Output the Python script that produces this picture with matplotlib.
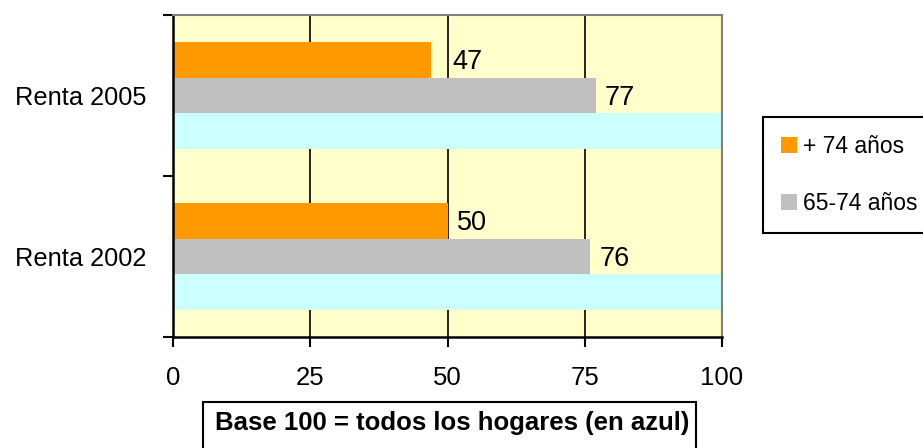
import matplotlib
matplotlib.use("Agg")
import matplotlib.pyplot as plt
from matplotlib.patches import Rectangle
from matplotlib.ticker import FixedLocator

plt.rcParams['font.family'] = ['Liberation Sans', 'DejaVu Sans']

categories = ["Renta 2002", "Renta 2005"]
mayores_74 = [50, 47]
de_65_74 = [76, 77]
todos = [100, 100]
series_names = ["+ 74 años", "65-74 años"]
x_ticks = [0, 25, 50, 75, 100]
note = "Base 100 = todos los hogares (en azul)"

# horizontal label gaps in pixels after the bar end
gap_74 = [9, 21]
gap_65 = [9, 9]

W, H = 923, 448
fig = plt.figure(figsize=(W / 100, H / 100), dpi=100)
ax = fig.add_axes([173 / W, 1 - 337 / H, (722 - 173) / W, (337 - 15) / H])
ax.set_facecolor("#FFFFCC")

h = 0.222
pos = list(range(len(categories)))
b1 = ax.barh([p + h for p in pos], mayores_74, height=h, color="#FF9900", label=series_names[0], zorder=2)
b2 = ax.barh(pos, de_65_74, height=h, color="#C0C0C0", label=series_names[1], zorder=2)
b3 = ax.barh([p - h for p in pos], todos, height=h, color="#CCFFFF", zorder=2)

px = 0.72
lab_fs = 19.5
dy = -9.5
for p, v, dx in zip(pos, mayores_74, gap_74):
    ax.annotate(str(v), (v, p + h), xytext=(dx * px, dy * px), textcoords="offset points",
                ha="left", va="baseline", fontsize=lab_fs, color="black", zorder=3)
for p, v, dx in zip(pos, de_65_74, gap_65):
    ax.annotate(str(v), (v, p), xytext=(dx * px, dy * px), textcoords="offset points",
                ha="left", va="baseline", fontsize=lab_fs, color="black", zorder=3)

ax.set_xlim(0, 100)
ax.set_ylim(-0.5, len(categories) - 0.5)

ax.set_xticks(x_ticks)
ax.set_xticklabels([str(t) for t in x_ticks], fontsize=18.5)
ax.tick_params(axis="x", direction="out", length=7, width=1.5, pad=14, colors="black")

ax.yaxis.set_major_locator(FixedLocator([-0.5, 0.5, 1.5]))
ax.yaxis.set_minor_locator(FixedLocator(pos))
ax.set_yticklabels([], minor=False)
ax.set_yticklabels(categories, minor=True, fontsize=18.3)
ax.tick_params(axis="y", which="major", direction="out", length=7, width=1.5)
ax.tick_params(axis="y", which="minor", length=0, pad=19)

for xv in x_ticks[1:-1]:
    ax.axvline(xv, color="black", linewidth=1.2, zorder=1)

ax.spines["left"].set_color("black")
ax.spines["left"].set_linewidth(1.8)
ax.spines["bottom"].set_color("black")
ax.spines["bottom"].set_linewidth(1.8)
ax.spines["top"].set_color("#808080")
ax.spines["top"].set_linewidth(1.5)
ax.spines["right"].set_color("#808080")
ax.spines["right"].set_linewidth(1.5)

leg = fig.legend(handles=[b1, b2], labels=series_names, loc="upper left",
                 bbox_to_anchor=(763 / W, 1 - 117 / H), fontsize=16.5,
                 frameon=True, fancybox=False, edgecolor="black", framealpha=1,
                 handlelength=0.7, handleheight=0.68, handletextpad=0.28,
                 labelspacing=1.5, borderpad=0.78, borderaxespad=0)
leg.get_frame().set_linewidth(1.5)

fig.patches.append(Rectangle((203 / W, -0.05), (696 - 203) / W, 0.05 + 1 - 402 / H,
                             transform=fig.transFigure, fill=False, edgecolor="black",
                             linewidth=1.5))
fig.text(452 / W, 1 - 430 / H, note, ha="center", va="baseline", fontsize=18.5, fontweight="bold")

fig.savefig("out.png", dpi=100)
